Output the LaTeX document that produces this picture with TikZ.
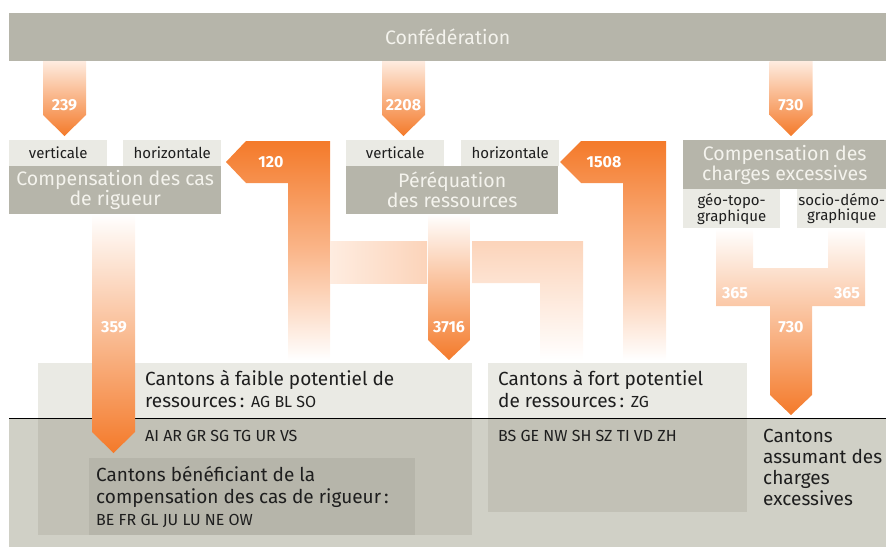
\documentclass[tikz,border=0pt]{standalone}
\usepackage{fontspec}
\setmainfont{Fira Sans}
\usepackage{xcolor}
\definecolor{barGray}{RGB}{182,181,170}
\definecolor{paleGray}{RGB}{234,234,228}
\definecolor{midGray}{RGB}{194,193,182}
\definecolor{baseGray}{RGB}{208,208,198}
\definecolor{softWhite}{RGB}{244,243,237}
\definecolor{inkDark}{RGB}{30,30,30}
\definecolor{orangeDeep}{RGB}{244,122,42}
\definecolor{peachMid}{RGB}{250,182,138}
\definecolor{peachPale}{RGB}{254,236,224}
\definecolor{peachBand}{RGB}{252,212,186}
\newcommand\boxfont{\fontsize{19.5}{20}\selectfont}
\newcommand\subfont{\fontsize{15}{14.5}\selectfont}
\newcommand\cantonfont{\fontsize{19}{22}\selectfont}
\newcommand\codefont{\fontsize{16}{16}\selectfont}

\begin{document}
\begin{tikzpicture}[x=1pt, y=-1pt,
  graybox/.style={fill=barGray, text=softWhite, inner sep=0pt, align=center, font=\boxfont},
  lightbox/.style={fill=paleGray, text=inkDark, inner sep=0pt, align=center, font=\subfont},
  flowlabel/.style={text=white, font=\fontsize{16}{16}\selectfont\bfseries},
  cantontext/.style={anchor=north west, inner sep=0pt, align=left, text=inkDark, font=\cantonfont}]
\useasboundingbox (0,0) rectangle (886,547);
% Bottom band and canton groups
\fill[baseGray] (9,418) rectangle (886,547);
\fill[paleGray] (38,363) rectangle (472,418);
\fill[midGray] (38,418) rectangle (472,535);
\fill[paleGray] (488,363) rectangle (747,418);
\fill[midGray] (488,418) rectangle (747,512);
\fill[barGray] (89,458) rectangle (415,535);
\draw[black, line width=1pt] (9,418) -- (886,418);
% Confederation bar
\node[graybox, anchor=north west, minimum width=877pt, minimum height=48pt] (confed) at (9,13) {Confédération};
% Sub boxes
\foreach \x/\name/\txt in {9/vertA/verticale, 123/horA/horizontale, 346/vertB/verticale, 461/horB/horizontale}
  \node[lightbox, anchor=north west, minimum width=98pt, minimum height=26pt] (\name) at (\x,140) {\txt};
\node[graybox, anchor=north west, minimum width=212pt, minimum height=48pt] (rigueur) at (9,166) {Compensation des cas\\de rigueur};
\node[graybox, anchor=north west, minimum width=212pt, minimum height=48pt] (perequation) at (346,166) {Péréquation\\des ressources};
\node[graybox, anchor=north west, minimum width=203pt, minimum height=49pt] (charges) at (683,140) {Compensation des\\charges excessives};
\node[lightbox, anchor=north west, minimum width=97pt, minimum height=39pt] (geo) at (683,189) {géo-topo-\\graphique};
\node[lightbox, anchor=north west, minimum width=89pt, minimum height=39pt] (socio) at (797,189) {socio-démo-\\graphique};
% Vertical flows from the Confederation
\foreach \x/\val in {64.5/239, 403.5/2208, 791/730} {
  \shade[top color=peachPale, bottom color=orangeDeep]
    (\x-21.5,61) -- (\x+21.5,61) -- (\x+21.5,115) -- (\x,136) -- (\x-21.5,115) -- cycle;
  \node[flowlabel] (top\val) at (\x,105) {\val};
}
% Horizontal flows (120 and 1508)
\shade[top color=orangeDeep, bottom color=white, middle color=peachMid]
  (226,162) -- (246,141) -- (330,141) -- (330,360) -- (288,360) -- (288,183) -- (246,183) -- cycle;
\node[flowlabel] (hor120) at (271,162) {120};
\shade[top color=orangeDeep, bottom color=white, middle color=peachMid]
  (560,162) -- (581,141) -- (666,141) -- (666,360) -- (623,360) -- (623,183) -- (581,183) -- cycle;
\node[flowlabel] (hor1508) at (604,162) {1508};
% Bands linking the flows
\shade[left color=peachPale, right color=peachBand] (330,241) rectangle (427,283);
\shade[top color=peachBand, bottom color=white]
  (472,241) -- (583,241) -- (583,360) -- (540,360) -- (540,283) -- (472,283) -- cycle;
% Resources and hardship flows
\shade[top color=white, bottom color=orangeDeep]
  (428,214) -- (470,214) -- (470,340) -- (449,360) -- (428,340) -- cycle;
\node[flowlabel] (res3716) at (449,327) {3716};
\shade[top color=white, bottom color=orangeDeep]
  (92,214) -- (135,214) -- (135,432) -- (113.5,453) -- (92,432) -- cycle;
\node[flowlabel] (rig359) at (114,327) {359};
% Burden compensation fork
\shade[top color=white, bottom color=orangeDeep]
  (716,228) -- (753,228) -- (753,268) -- (828,268) -- (828,228) -- (865,228) -- (865,306)
  -- (812,306) -- (812,395) -- (791,415) -- (770,395) -- (770,306) -- (716,306) -- cycle;
\node[flowlabel] (geo365) at (735,293) {365};
\node[flowlabel] (socio365) at (847,293) {365};
\node[flowlabel] (fork730) at (791,327) {730};
% Canton labels
\node[cantontext] (faible) at (145,370) {Cantons à faible potentiel de\\ressources\,: {\codefont AG BL SO}};
\node[cantontext, font=\codefont] (faibleB) at (145,430) {AI AR GR SG TG UR VS};
\node[cantontext] (fort) at (498,370) {Cantons à fort potentiel\\de ressources\,: {\codefont ZG}};
\node[cantontext, font=\codefont] (fortB) at (498,430) {BS GE NW SH SZ TI VD ZH};
\node[cantontext] (benef) at (96,466) {Cantons bénéficiant de la\\compensation des cas de rigueur\,:\\{\codefont BE FR GL JU LU NE OW}};
\node[cantontext, font=\fontsize{19}{21}\selectfont] (assum) at (763,429) {Cantons\\assumant des\\charges\\excessives};
\end{tikzpicture}
\end{document}
